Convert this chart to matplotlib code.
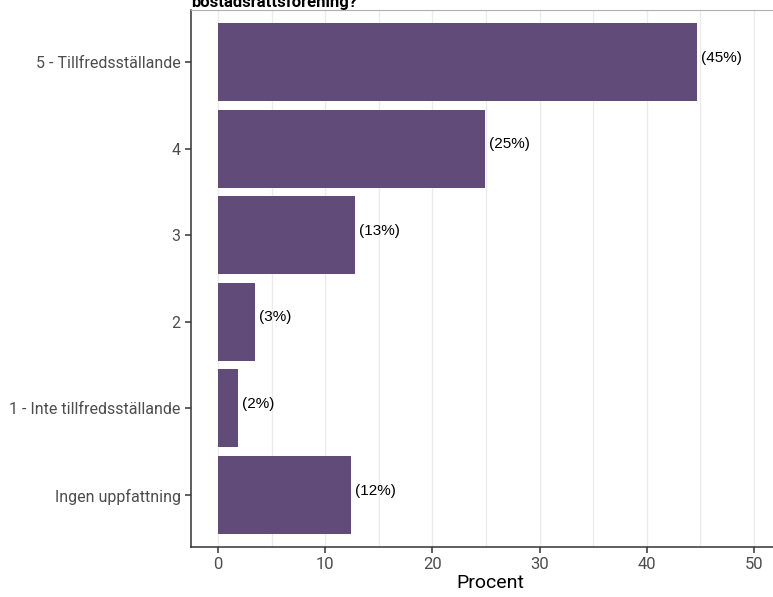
import matplotlib
matplotlib.use("Agg")
import matplotlib.pyplot as plt
import numpy as np

categories = ["5 - Tillfredsställande", "4", "3", "2",
              "1 - Inte tillfredsställande", "Ingen uppfattning"]
values = [44.7, 24.9, 12.8, 3.45, 1.9, 12.4]
labels = ["(45%)", "(25%)", "(13%)", "(3%)", "(2%)", "(12%)"]
xticks = [0, 10, 20, 30, 40, 50]
title = "bostadsrättsförening?"

bar_color = "#614b79"
tick_color = "#4d4d4d"

fig = plt.figure(figsize=(7.73, 5.97), dpi=100)
W, H = 773, 597
ax = fig.add_axes([191 / W, 1 - 547 / H, (790 - 191) / W, (547 - 10) / H])

y = np.arange(len(categories))
ax.barh(y, values, height=0.9, color=bar_color, zorder=3)
for yi, v, lab in zip(y, values, labels):
    ax.text(v + 0.35, yi - 0.05, lab, va="center", ha="left",
            fontsize=11, family="Liberation Sans", color="black", zorder=4)

ax.set_ylim(len(categories) - 0.4, -0.6)
px = 10.72
ax.set_xlim(-27 / px, (790 - 218) / px)
ax.set_yticks(y)
ax.set_yticklabels(categories, family="Roboto", fontsize=11.5, color=tick_color)
ax.set_xticks(xticks)
ax.set_xticklabels([str(t) for t in xticks], family="Roboto", fontsize=12, color=tick_color)
ax.set_xticks([5, 15, 25, 35, 45], minor=True)
ax.tick_params(axis="x", which="minor", length=0)
ax.tick_params(axis="both", which="major", length=4, width=1.1, color="#333333")
ax.grid(axis="x", which="both", color="#ebebeb", linewidth=1, zorder=0)
ax.grid(axis="y", visible=False)

for s in ["left", "bottom"]:
    ax.spines[s].set_color("#333333")
    ax.spines[s].set_linewidth(1.1)
ax.spines["top"].set_color("#b0b0b0")
ax.spines["top"].set_linewidth(0.8)
ax.spines["right"].set_visible(False)

ax.set_xlabel("Procent", family="Roboto", fontsize=14, color="black", labelpad=1)
fig.text(191 / W, 1 - 2 / H, title, ha="left", va="center",
         fontsize=12, fontweight="bold", family="Roboto", color="black")

fig.savefig("out.png", dpi=100)
